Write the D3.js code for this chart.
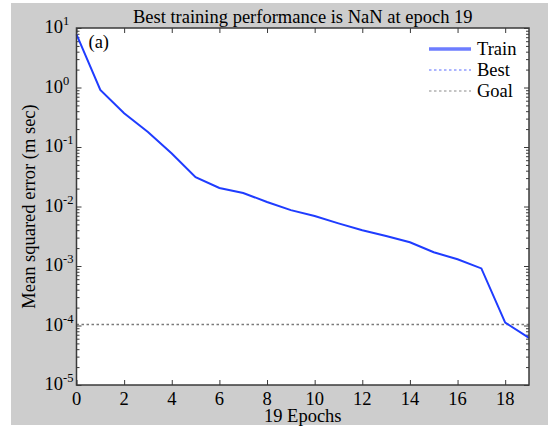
<!DOCTYPE html>
<html lang="en">
<head>
<meta charset="utf-8">
<title>Best training performance</title>
<script src="https://d3js.org/d3.v7.min.js"></script>
<style>
    body { margin: 0; background: #fff; }
    text { font-family: "Liberation Serif", "Times New Roman", serif; fill: #000; }
</style>
</head>
<body>
<div id="mainDiv"></div>
<script type="text/javascript">
    // data
    const epochs = [0, 1, 2, 3, 4, 5, 6, 7, 8, 9, 10, 11, 12, 13, 14, 15, 16, 17, 18, 19]
    const trainValues = [7.8, 0.91, 0.37, 0.179, 0.078, 0.031, 0.0205, 0.0169, 0.0119, 0.0087,
                         0.0069, 0.0052, 0.0040, 0.0032, 0.0025, 0.0017, 0.0013, 0.00091, 0.000112, 0.000062]
    const goalValue = 0.000104
    const xTickValues = [0, 2, 4, 6, 8, 10, 12, 14, 16, 18]
    const yExponents = [1, 0, -1, -2, -3, -4, -5]
    const legendLabels = ['Train', 'Best', 'Goal']

    const width = 548
    const height = 427
    const margins = { top: 28, bottom: 42, left: 76.5, right: 19 }
    const bounded = {
        width: width - margins.left - margins.right,
        height: height - margins.top - margins.bottom
    }
    const fontSize = '18.5px'

    const svg = d3.select('#mainDiv').append('svg')
        .attr('width', width)
        .attr('height', height)

    // grey figure background
    svg.append('rect')
        .attr('x', 11).attr('y', 3)
        .attr('width', width - 11).attr('height', 422)
        .attr('fill', '#cdcdcd')

    const group = svg.append('g')
        .attr('transform', `translate(${margins.left},${margins.top})`)

    group.append('rect')
        .attr('width', bounded.width)
        .attr('height', bounded.height)
        .attr('fill', '#fff')

    const xScale = d3.scaleLinear().domain([0, 19]).range([0, bounded.width])
    const yScale = d3.scaleLog().domain([1e-5, 10]).range([bounded.height, 0])

    const majorY = yExponents.map(e => Math.pow(10, e))
    const minorY = yScale.ticks().filter(v => !majorY.some(m => Math.abs(m - v) / m < 1e-6))

    const axisColor = '#3a3a3a'
    function styleAxis(g) {
        g.select('.domain').remove()
        g.selectAll('line').attr('stroke', axisColor)
        g.selectAll('text').remove()
    }

    // inward ticks on all four sides
    group.append('g').attr('transform', `translate(0,${bounded.height})`)
        .call(d3.axisBottom(xScale).tickValues(xTickValues).tickSize(-5)).call(styleAxis)
    group.append('g')
        .call(d3.axisTop(xScale).tickValues(xTickValues).tickSize(-5)).call(styleAxis)
    group.append('g')
        .call(d3.axisLeft(yScale).tickValues(majorY).tickSize(-5)).call(styleAxis)
    group.append('g')
        .call(d3.axisLeft(yScale).tickValues(minorY).tickSize(-3)).call(styleAxis)
    group.append('g').attr('transform', `translate(${bounded.width},0)`)
        .call(d3.axisRight(yScale).tickValues(majorY).tickSize(-5)).call(styleAxis)
    group.append('g').attr('transform', `translate(${bounded.width},0)`)
        .call(d3.axisRight(yScale).tickValues(minorY).tickSize(-3)).call(styleAxis)

    // goal line
    group.append('line')
        .attr('x1', 0).attr('x2', bounded.width)
        .attr('y1', yScale(goalValue)).attr('y2', yScale(goalValue))
        .attr('stroke', '#7a7a7a').attr('stroke-width', 1.3)
        .attr('stroke-dasharray', '2.5,2.5')

    // training curve
    const line = d3.line()
        .x((d, i) => xScale(epochs[i]))
        .y(d => yScale(d))
    group.append('path')
        .datum(trainValues)
        .attr('d', line)
        .attr('fill', 'none')
        .attr('stroke', '#1f3cff')
        .attr('stroke-width', 2)

    // plot box
    group.append('rect')
        .attr('width', bounded.width)
        .attr('height', bounded.height)
        .attr('fill', 'none')
        .attr('stroke', axisColor)
        .attr('stroke-width', 1.5)

    // x tick labels
    group.selectAll('.xlab')
        .data(xTickValues)
        .enter()
        .append('text')
        .attr('x', d => xScale(d))
        .attr('y', bounded.height + 20)
        .attr('text-anchor', 'middle')
        .style('font-size', fontSize)
        .text(d => d)

    // y tick labels, 10 with superscript exponent
    const yLab = group.selectAll('.ylab')
        .data(yExponents)
        .enter()
        .append('text')
        .attr('x', -32)
        .attr('y', d => yScale(Math.pow(10, d)) + 5)
        .style('font-size', fontSize)
    yLab.append('tspan').text('10')
    yLab.append('tspan')
        .attr('dy', -8)
        .style('font-size', '12.5px')
        .text(d => d)

    // title and axis labels
    svg.append('text')
        .attr('x', margins.left + bounded.width / 2)
        .attr('y', 23)
        .attr('text-anchor', 'middle')
        .style('font-size', fontSize)
        .text('Best training performance is NaN at epoch 19')

    svg.append('text')
        .attr('x', margins.left + bounded.width / 2)
        .attr('y', 422)
        .attr('text-anchor', 'middle')
        .style('font-size', fontSize)
        .text('19 Epochs')

    svg.append('text')
        .attr('transform', `translate(35,${margins.top + bounded.height / 2}) rotate(-90)`)
        .attr('text-anchor', 'middle')
        .style('font-size', fontSize)
        .text('Mean squared error (m sec)')

    group.append('text')
        .attr('x', 12)
        .attr('y', 20)
        .style('font-size', fontSize)
        .text('(a)')

    // legend
    const legendStyles = [
        { stroke: '#6d7dff', width: 3.5, dash: null },
        { stroke: '#5a6cff', width: 1.2, dash: '2.5,2.5' },
        { stroke: '#8a8a8a', width: 1.2, dash: '2.5,2.5' }
    ]
    const legend = svg.append('g').attr('transform', 'translate(429,49)')
    legendLabels.forEach((label, i) => {
        legend.append('line')
            .attr('x1', 0).attr('x2', 42)
            .attr('y1', i * 21).attr('y2', i * 21)
            .attr('stroke', legendStyles[i].stroke)
            .attr('stroke-width', legendStyles[i].width)
            .attr('stroke-dasharray', legendStyles[i].dash)
        legend.append('text')
            .attr('x', 48)
            .attr('y', i * 21 + 6)
            .style('font-size', fontSize)
            .text(label)
    })
</script>
</body>
</html>
